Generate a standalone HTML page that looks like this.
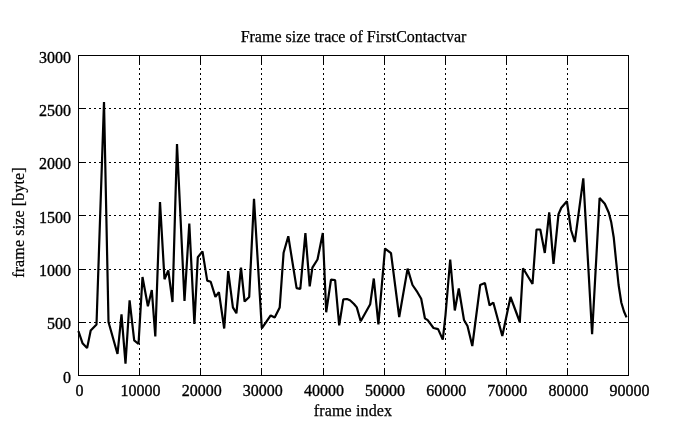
<!DOCTYPE html>
<html><head><meta charset="utf-8"><style>
html,body{margin:0;padding:0;background:#fff;}
svg{display:block;}
.t{font-family:"Liberation Serif",serif;font-size:16px;fill:#000;stroke:#000;stroke-width:0.35px;}
svg{will-change:transform;}
.l{stroke-width:0.25px;}
.ls{letter-spacing:0.13px;}
</style></head><body>
<svg width="695" height="429" viewBox="0 0 695 429">
<rect width="695" height="429" fill="#fff"/>
<line x1="139.5" y1="63" x2="139.5" y2="365" stroke="#000" stroke-width="1" stroke-dasharray="2,3"/>
<line x1="200.5" y1="63" x2="200.5" y2="365" stroke="#000" stroke-width="1" stroke-dasharray="2,3"/>
<line x1="261.5" y1="63" x2="261.5" y2="365" stroke="#000" stroke-width="1" stroke-dasharray="2,3"/>
<line x1="323.5" y1="63" x2="323.5" y2="365" stroke="#000" stroke-width="1" stroke-dasharray="2,3"/>
<line x1="384.5" y1="63" x2="384.5" y2="365" stroke="#000" stroke-width="1" stroke-dasharray="2,3"/>
<line x1="445.5" y1="63" x2="445.5" y2="365" stroke="#000" stroke-width="1" stroke-dasharray="2,3"/>
<line x1="506.5" y1="63" x2="506.5" y2="365" stroke="#000" stroke-width="1" stroke-dasharray="2,3"/>
<line x1="567.5" y1="63" x2="567.5" y2="365" stroke="#000" stroke-width="1" stroke-dasharray="2,3"/>
<line x1="89" y1="322.5" x2="626" y2="322.5" stroke="#000" stroke-width="1" stroke-dasharray="2,3"/>
<line x1="89" y1="269.5" x2="626" y2="269.5" stroke="#000" stroke-width="1" stroke-dasharray="2,3"/>
<line x1="89" y1="215.5" x2="626" y2="215.5" stroke="#000" stroke-width="1" stroke-dasharray="2,3"/>
<line x1="89" y1="162.5" x2="626" y2="162.5" stroke="#000" stroke-width="1" stroke-dasharray="2,3"/>
<line x1="89" y1="108.5" x2="626" y2="108.5" stroke="#000" stroke-width="1" stroke-dasharray="2,3"/>
<path d="M78.5 55V63M78.5 368V376M139.5 55V63M139.5 368V376M200.5 55V63M200.5 368V376M261.5 55V63M261.5 368V376M323.5 55V63M323.5 368V376M384.5 55V63M384.5 368V376M445.5 55V63M445.5 368V376M506.5 55V63M506.5 368V376M567.5 55V63M567.5 368V376M628.5 55V63M628.5 368V376M78 375.5H86M621 375.5H629M78 322.5H86M621 322.5H629M78 269.5H86M621 269.5H629M78 215.5H86M621 215.5H629M78 162.5H86M621 162.5H629M78 108.5H86M621 108.5H629M78 55.5H86M621 55.5H629" stroke="#000" stroke-width="1" fill="none"/>
<rect x="78.5" y="55.5" width="550" height="320" fill="none" stroke="#000" stroke-width="1"/>
<polyline points="78.4,331.0 82.5,343.2 87.1,348.1 90.7,330.5 96.5,324.5 104.0,102.0 108.5,322.0 117.5,354.0 121.5,314.3 125.5,363.7 129.6,300.3 134.2,340.4 138.5,344.0 142.5,277.0 147.9,306.2 151.8,290.0 155.3,336.5 160.0,202.0 164.5,279.3 168.3,270.5 172.5,302.0 177.0,144.0 184.5,301.0 189.3,223.6 194.4,324.0 197.8,257.2 202.5,251.4 207.2,280.6 210.7,281.7 215.4,296.9 218.9,292.2 224.2,328.5 228.2,271.2 232.9,307.4 236.4,313.3 241.0,267.7 244.6,301.6 249.2,296.9 254.0,198.8 261.8,328.3 270.7,315.4 274.7,317.4 279.7,307.5 283.6,252.7 288.3,236.2 296.6,288.1 300.3,289.0 305.4,233.2 309.7,286.3 312.4,267.6 317.5,259.5 322.8,233.0 326.2,312.3 331.0,279.7 335.1,280.0 339.2,325.4 343.3,299.3 347.0,299.0 350.0,300.3 354.0,304.0 356.8,307.4 360.7,321.3 370.2,304.2 373.8,278.5 378.4,324.5 385.0,248.6 391.0,253.2 399.2,317.0 407.6,268.6 412.5,285.0 417.4,292.2 421.2,298.8 424.9,318.3 427.7,320.2 433.5,328.0 438.1,329.1 442.8,339.6 445.5,315.0 450.2,259.5 454.8,310.5 458.8,288.5 464.0,320.0 467.5,326.0 472.3,346.0 480.2,284.9 484.9,283.0 489.6,305.4 493.3,302.5 502.3,336.0 510.5,297.0 519.8,322.0 523.0,268.2 532.5,284.0 536.5,229.5 540.3,229.5 544.8,253.0 549.2,212.3 553.5,264.0 558.5,214.2 561.3,207.7 566.9,201.2 571.0,230.0 574.8,242.0 583.3,178.4 592.1,334.2 599.6,198.1 604.8,203.8 608.8,212.8 611.3,222.6 613.7,237.2 616.0,260.0 618.6,285.0 621.3,302.5 623.9,311.3 626.5,317.4" fill="none" stroke="#000" stroke-width="2.2" stroke-linejoin="bevel"/>
<text x="71" y="382.5" text-anchor="end" class="t">0</text>
<text x="71" y="329.2" text-anchor="end" class="t">500</text>
<text x="71" y="275.8" text-anchor="end" class="t">1000</text>
<text x="71" y="222.5" text-anchor="end" class="t">1500</text>
<text x="71" y="169.2" text-anchor="end" class="t">2000</text>
<text x="71" y="115.8" text-anchor="end" class="t">2500</text>
<text x="71" y="62.5" text-anchor="end" class="t">3000</text>
<text x="79.5" y="396" text-anchor="middle" class="t">0</text>
<text x="140.6" y="396" text-anchor="middle" class="t">10000</text>
<text x="201.7" y="396" text-anchor="middle" class="t">20000</text>
<text x="262.8" y="396" text-anchor="middle" class="t">30000</text>
<text x="323.9" y="396" text-anchor="middle" class="t">40000</text>
<text x="385.1" y="396" text-anchor="middle" class="t">50000</text>
<text x="446.2" y="396" text-anchor="middle" class="t">60000</text>
<text x="507.3" y="396" text-anchor="middle" class="t">70000</text>
<text x="568.4" y="396" text-anchor="middle" class="t">80000</text>
<text x="629.5" y="396" text-anchor="middle" class="t">90000</text>
<text x="353.5" y="42" text-anchor="middle" class="t l">Frame size trace of FirstContactvar</text>
<text x="353" y="416" text-anchor="middle" class="t l ls">frame index</text>
<text transform="translate(24,222.5) rotate(-90)" text-anchor="middle" class="t l ls">frame size [byte]</text>
</svg>
</body></html>
